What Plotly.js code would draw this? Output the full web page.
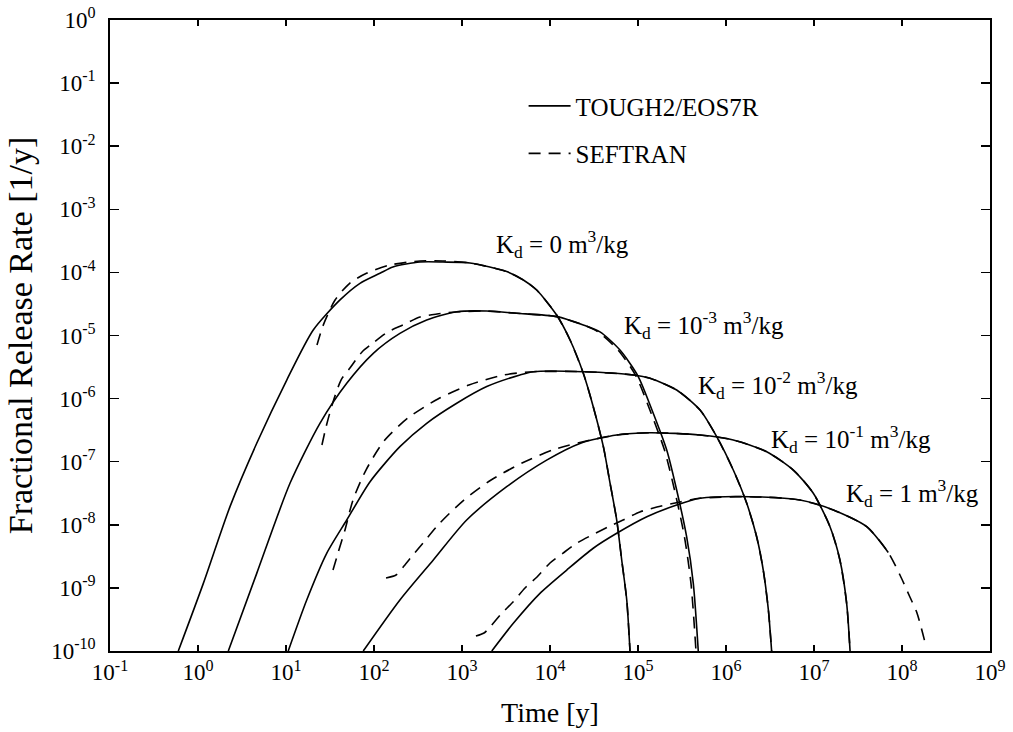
<!DOCTYPE html>
<html>
<head>
<meta charset="utf-8">
<script src="https://cdn.plot.ly/plotly-3.0.1.min.js"></script>
<style>html,body{margin:0;padding:0;background:#fff;}#chart{width:1013px;height:732px;}</style>
</head>
<body>
<div id="chart"></div>
<script>
// ---- Data (time in years, fractional release rate in 1/y) ----
const S0_t = [0.597, 1.15, 2.31, 4.65, 10.2, 20.4, 41.1, 69.3, 117, 164, 333, 608, 1230, 3220, 4980, 7060, 11900, 16900, 23900, 31000, 40400, 48100, 57300, 65300, 74500, 81100];
const S0_y = [1e-10, 1.18e-9, 1.94e-8, 1.96e-7, 1.97e-6, 1.22e-5, 3.66e-5, 6.71e-5, 9.68e-5, 1.22e-4, 1.46e-4, 1.46e-4, 1.41e-4, 1.03e-4, 7.58e-5, 5.26e-5, 2.11e-5, 8.49e-6, 2.52e-6, 7.45e-7, 1.73e-7, 4.59e-8, 1.19e-8, 2.77e-9, 6.43e-10, 1e-10];
const D0_t = [22.5, 26.3, 36.1, 53.3, 83.2, 152, 333, 608, 1230, 3220, 4980, 7060, 11900, 16900, 23900, 31000, 40400, 48100, 57300, 65300, 74500, 81100];
const D0_y = [7.07e-6, 1.42e-5, 3.66e-5, 6.79e-5, 9.77e-5, 1.31e-4, 1.52e-4, 1.52e-4, 1.41e-4, 1.03e-4, 7.58e-5, 5.26e-5, 2.11e-5, 8.49e-6, 2.52e-6, 7.45e-7, 1.73e-7, 4.59e-8, 1.19e-8, 2.77e-9, 6.43e-10, 1e-10];

const S3_t = [2.21, 4.65, 11.1, 24.3, 49.0, 98.2, 197, 397, 871, 1910, 4190, 11900, 23900, 37000, 62400, 100000, 149000, 212000, 275000, 357000, 425000, 484000];
const S3_y = [1e-10, 1.70e-9, 4.55e-8, 4.06e-7, 1.75e-6, 5.22e-6, 1.08e-5, 1.76e-5, 2.38e-5, 2.44e-5, 2.25e-5, 1.99e-5, 1.47e-5, 1.14e-5, 5.89e-6, 2.28e-6, 5.85e-7, 1.53e-7, 3.56e-8, 6.47e-9, 1.18e-9, 1e-10];
const D3_t = [25.6, 28.5, 33.4, 42.2, 53.3, 73.1, 97.5, 144, 214, 333, 520, 855, 1910, 4190, 11900, 23900, 35100, 59300, 94900, 141000, 200000, 260000, 337000, 400000, 456000];
const D3_y = [1.84e-7, 3.55e-7, 7.92e-7, 1.97e-6, 3.05e-6, 5.48e-6, 7.61e-6, 1.14e-5, 1.47e-5, 1.96e-5, 2.19e-5, 2.36e-5, 2.44e-5, 2.25e-5, 1.99e-5, 1.47e-5, 1.14e-5, 5.89e-6, 2.28e-6, 5.85e-7, 1.53e-7, 3.56e-8, 6.47e-9, 1.18e-9, 1e-10];

const S2_t = [10.6, 17.2, 29.0, 49.0, 90.2, 197, 397, 871, 1910, 4560, 6460, 23900, 88500, 137000, 275000, 507000, 784000, 1210000, 1720000, 2230000, 2650000, 3030000, 3300000];
const S2_y = [1e-10, 6.43e-10, 3.53e-9, 1.19e-8, 4.82e-8, 1.73e-7, 4.06e-7, 8.43e-7, 1.55e-6, 2.37e-6, 2.67e-6, 2.67e-6, 2.37e-6, 2.10e-6, 1.37e-6, 6.59e-7, 2.49e-7, 7.38e-8, 2.19e-8, 6.47e-9, 1.92e-9, 4.47e-10, 1e-10];
const D2_t = [34.2, 39.0, 46.8, 57.7, 81.1, 130, 243, 533, 1200, 3000, 6460, 23900, 88500, 137000, 275000, 507000, 784000, 1210000, 1720000, 2230000, 2650000, 3030000, 3300000];
const D2_y = [1.92e-9, 3.57e-9, 8.28e-9, 2.47e-8, 7.38e-8, 2.13e-7, 4.93e-7, 9.86e-7, 1.64e-6, 2.37e-6, 2.67e-6, 2.67e-6, 2.37e-6, 2.10e-6, 1.37e-6, 6.59e-7, 2.49e-7, 7.38e-8, 2.19e-8, 6.47e-9, 1.92e-9, 4.47e-10, 1e-10];

const S1_t = [75.5, 197, 472, 1130, 3220, 9160, 21900, 57300, 137000, 507000, 1210000, 2900000, 5820000, 9820000, 15200000, 19700000, 23500000, 25700000];
const S1_y = [1e-10, 6.43e-10, 2.77e-9, 1.19e-8, 4.02e-8, 1.06e-7, 1.95e-7, 2.65e-7, 2.88e-7, 2.65e-7, 2.21e-7, 1.44e-7, 7.38e-8, 3.16e-8, 9.33e-9, 2.77e-9, 5.70e-10, 1e-10];
const D1_t = [137, 178, 219, 277, 361, 548, 1050, 2140, 4810, 11400, 29200, 57300, 137000, 507000, 1210000, 2900000, 5820000, 9820000, 15200000, 19700000, 23500000, 25700000];
const D1_y = [1.44e-9, 1.60e-9, 2.22e-9, 3.32e-9, 5.15e-9, 1.03e-8, 2.47e-8, 5.13e-8, 9.53e-8, 1.58e-7, 2.21e-7, 2.65e-7, 2.88e-7, 2.65e-7, 2.21e-7, 1.44e-7, 7.38e-8, 3.16e-8, 9.33e-9, 2.77e-9, 5.70e-10, 1e-10];

const S10_t = [2180, 3830, 7690, 15500, 31000, 57300, 126000, 275000, 507000, 1870000, 6930000, 16600000, 39700000, 69800000];
const S10_y = [1e-10, 2.75e-10, 8.20e-10, 1.92e-9, 4.25e-9, 7.33e-9, 1.34e-8, 2.06e-8, 2.63e-8, 2.79e-8, 2.47e-8, 1.72e-8, 9.33e-9, 3.64e-9];
const D10_t = [1440, 1780, 2080, 2850, 3800, 5200, 7120, 10000, 14100, 20300, 30000, 45600, 67600, 105000, 164000, 300000, 507000, 1870000, 6930000, 16600000, 39700000, 69800000, 94800000, 123000000, 148000000, 187000000];
const D10_y = [1.73e-10, 1.93e-10, 2.40e-10, 4.00e-10, 5.98e-10, 9.96e-10, 1.49e-9, 2.48e-9, 3.57e-9, 5.15e-9, 6.89e-9, 9.23e-9, 1.19e-8, 1.60e-8, 1.91e-8, 2.30e-8, 2.63e-8, 2.79e-8, 2.47e-8, 1.72e-8, 9.33e-9, 3.64e-9, 1.60e-9, 7.18e-10, 4.00e-10, 1.20e-10];

const seriesNames = ['TOUGH2/EOS7R', 'SEFTRAN'];
const xTickExp = [-1, 0, 1, 2, 3, 4, 5, 6, 7, 8, 9];
const yTickExp = [-10, -9, -8, -7, -6, -5, -4, -3, -2, -1, 0];
const kdLabels = ['K<sub>d</sub> = 0 m<sup>3</sup>/kg',
                  'K<sub>d</sub> = 10<sup>-3</sup> m<sup>3</sup>/kg',
                  'K<sub>d</sub> = 10<sup>-2</sup> m<sup>3</sup>/kg',
                  'K<sub>d</sub> = 10<sup>-1</sup> m<sup>3</sup>/kg',
                  'K<sub>d</sub> = 1 m<sup>3</sup>/kg'];
const kdLabelPos = [[0.436, 0.645], [0.582, 0.517], [0.666, 0.422], [0.749, 0.336], [0.834, 0.251]];

const FONT = 'Liberation Serif, Times New Roman, serif';
const solid = [[S0_t, S0_y], [S3_t, S3_y], [S2_t, S2_y], [S1_t, S1_y], [S10_t, S10_y]];
const dashed = [[D0_t, D0_y], [D3_t, D3_y], [D2_t, D2_y], [D1_t, D1_y], [D10_t, D10_y]];

const traces = [];
solid.forEach((s, i) => traces.push({
  x: s[0], y: s[1], type: 'scatter', mode: 'lines',
  name: seriesNames[0], legendgroup: 'a', showlegend: i === 0,
  line: {color: '#000', width: 1.6, shape: 'spline', smoothing: 0.7}
}));
dashed.forEach((s, i) => traces.push({
  x: s[0], y: s[1], type: 'scatter', mode: 'lines',
  name: seriesNames[1], legendgroup: 'b', showlegend: i === 0,
  line: {color: '#000', width: 1.6, dash: '12px,8px', shape: 'spline', smoothing: 0.7}
}));

const annotations = kdLabels.map((t, i) => ({
  text: t, xref: 'paper', yref: 'paper', x: kdLabelPos[i][0], y: kdLabelPos[i][1],
  xanchor: 'left', yanchor: 'middle', showarrow: false,
  font: {family: FONT, size: 25, color: '#000'}
}));

const layout = {
  width: 1013, height: 732,
  margin: {l: 110, r: 23, t: 20, b: 81},
  paper_bgcolor: '#fff', plot_bgcolor: '#fff',
  font: {family: FONT, color: '#000'},
  showlegend: true,
  legend: {x: 0.47, y: 0.9, xanchor: 'left', yanchor: 'top', bgcolor: 'rgba(0,0,0,0)',
           itemwidth: 42,
           font: {family: FONT, size: 25, color: '#000'}, tracegroupgap: 12, traceorder: 'grouped'},
  xaxis: {
    type: 'log', range: [-1, 9],
    tickmode: 'array', tickvals: xTickExp.map(e => Math.pow(10, e)),
    ticktext: xTickExp.map(e => '10<sup>' + e + '</sup>'),
    ticks: 'inside', ticklen: 6, tickwidth: 1.5, tickcolor: '#000',
    showline: true, linecolor: '#000', linewidth: 1.8, mirror: 'ticks',
    showgrid: false, zeroline: false,
    tickfont: {family: FONT, size: 23, color: '#000'},
    title: {text: 'Time [y]', font: {family: FONT, size: 28, color: '#000'}, standoff: 18}
  },
  yaxis: {
    type: 'log', range: [-10, 0],
    tickmode: 'array', tickvals: yTickExp.map(e => Math.pow(10, e)),
    ticktext: yTickExp.map(e => '10<sup>' + e + '</sup>'),
    ticks: 'inside', ticklen: 9, tickwidth: 1.5, tickcolor: '#000',
    showline: true, linecolor: '#000', linewidth: 1.8, mirror: 'ticks',
    showgrid: false, zeroline: false,
    tickfont: {family: FONT, size: 23, color: '#000'},
    ticklabelstandoff: 8,
    title: {text: 'Fractional Release Rate [1/y]', font: {family: FONT, size: 34, color: '#000'}, standoff: 8}
  },
  annotations: annotations
};

Plotly.newPlot('chart', traces, layout, {displayModeBar: false, staticPlot: true});
</script>
</body>
</html>
